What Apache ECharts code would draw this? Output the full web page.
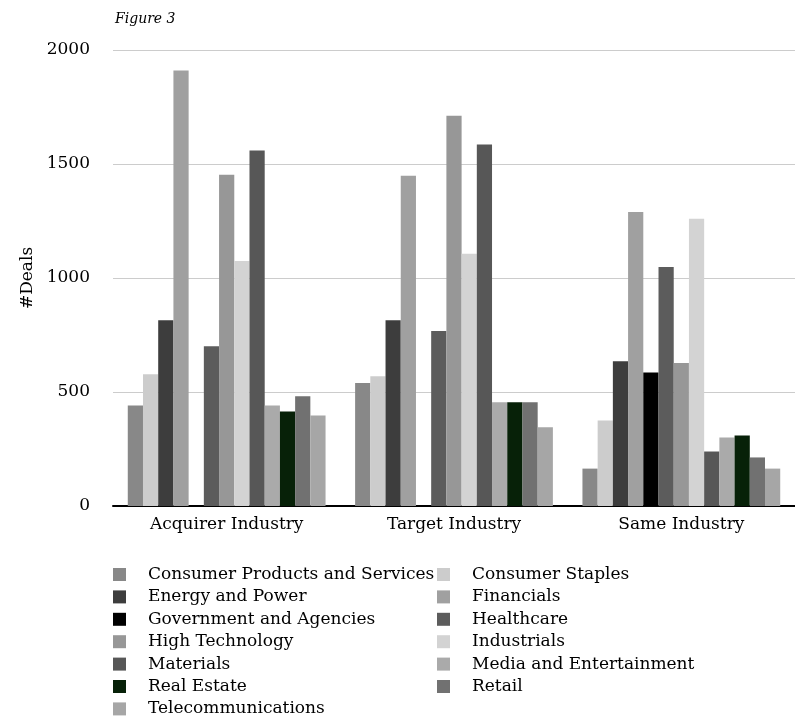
<!DOCTYPE html>
<html><head><meta charset="utf-8">
<script src="https://cdn.jsdelivr.net/npm/echarts@6/dist/echarts.min.js"></script>
<style>html,body{margin:0;padding:0;background:#fff}#c{width:795px;height:726px}</style>
</head><body><div id="c"></div>
<script>
const categories = ['Acquirer Industry', 'Target Industry', 'Same Industry'];
const seriesNames = ['Consumer Products and Services','Consumer Staples','Energy and Power','Financials','Government and Agencies','Healthcare','High Technology','Industrials','Materials','Media and Entertainment','Real Estate','Retail','Telecommunications'];
const consumerProducts = [441, 539, 164];
const consumerStaples = [578, 569, 375];
const energyPower = [815, 815, 635];
const financials = [1910, 1449, 1290];
const government = [0, 0, 586];
const healthcare = [701, 767, 1048];
const highTech = [1453, 1712, 627];
const industrials = [1075, 1106, 1260];
const materials = [1559, 1586, 239];
const media = [441, 455, 300];
const realEstate = [415, 455, 309];
const retail = [481, 455, 213];
const telecom = [397, 345, 164];
const yTicks = [0, 500, 1000, 1500, 2000];

const values = [consumerProducts, consumerStaples, energyPower, financials, government, healthcare, highTech, industrials, materials, media, realEstate, retail, telecom];
const colors = ['#888888','#cccccc','#3d3d3d','#a0a0a0','#000000','#5c5c5c','#979797','#d3d3d3','#575757','#aaaaaa','#072108','#717171','#a6a6a6'];
const FONT = 'DejaVu Serif';
const chart = echarts.init(document.getElementById('c'));
const legendCommon = {
  orient: 'vertical', itemWidth: 13, itemHeight: 13, itemGap: 5.4, top: 561,
  icon: 'rect', selectedMode: false,
  textStyle: { fontFamily: FONT, fontSize: 17, color: '#000', padding: [0,0,0,17] }
};
chart.setOption({
  animation: false,
  color: colors,
  title: { text: 'Figure 3', left: 110, top: 7, textStyle: { fontFamily: FONT, fontStyle: 'italic', fontWeight: 'normal', fontSize: 14, color: '#000' } },
  grid: { left: 113, right: 0, top: 50, bottom: 220 },
  legend: [
    Object.assign({ left: 108, data: seriesNames.filter((n, i) => i % 2 === 0) }, legendCommon),
    Object.assign({ left: 432, data: seriesNames.filter((n, i) => i % 2 === 1) }, legendCommon)
  ],
  xAxis: {
    type: 'category', data: categories,
    axisLine: { lineStyle: { color: '#000', width: 2 } },
    axisTick: { show: false },
    axisLabel: { fontFamily: FONT, fontSize: 17, color: '#000', margin: 10 }
  },
  yAxis: {
    type: 'value', min: yTicks[0], max: yTicks[yTicks.length - 1], interval: 500,
    name: '#Deals', nameLocation: 'middle', nameGap: 72, nameRotate: 90,
    nameTextStyle: { fontFamily: FONT, fontSize: 17, color: '#000' },
    axisLine: { show: false }, axisTick: { show: false },
    axisLabel: { fontFamily: FONT, fontSize: 17, color: '#000', margin: 23, formatter: v => String(v) },
    splitLine: { lineStyle: { color: '#cccccc', width: 1 } }
  },
  series: seriesNames.map((n, i) => ({
    name: n, type: 'bar', data: values[i],
    barGap: '0%', barCategoryGap: '13%',
    itemStyle: { color: colors[i] }
  }))
});
</script></body></html>
